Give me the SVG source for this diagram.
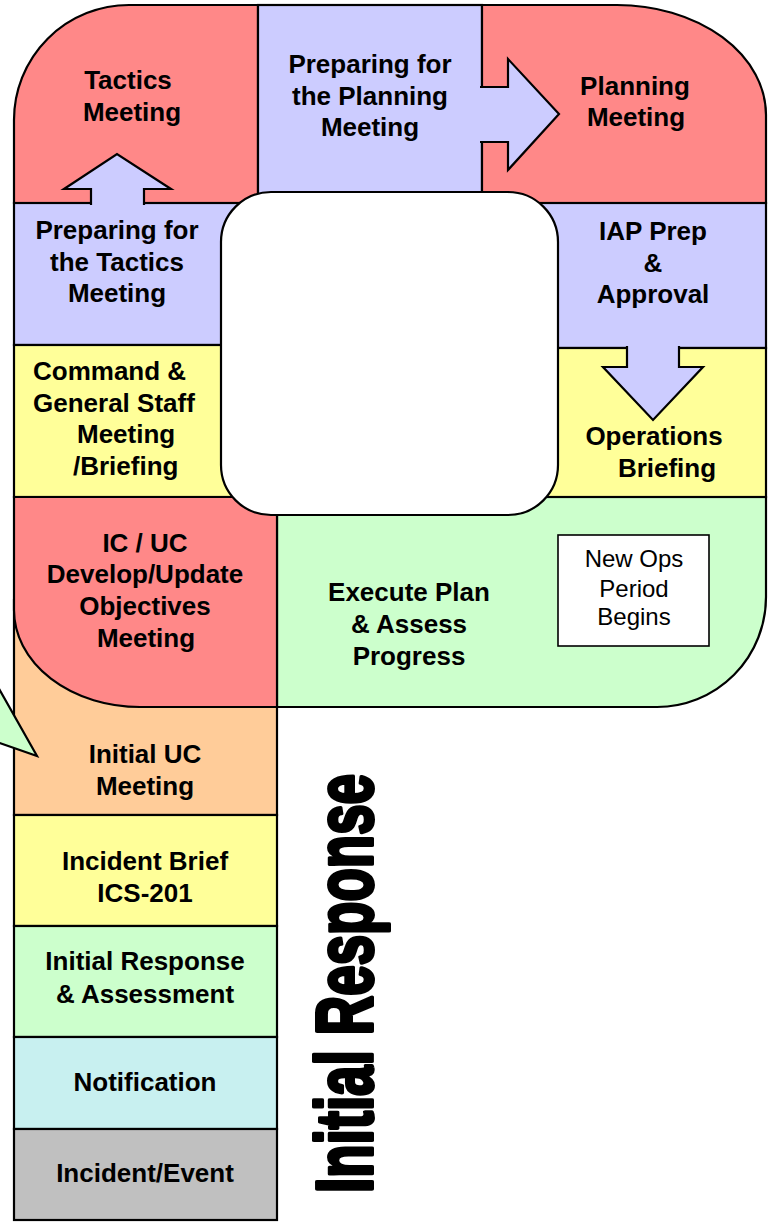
<svg xmlns="http://www.w3.org/2000/svg" width="769" height="1225" viewBox="0 0 769 1225">
<style>
.t{stroke:#000;stroke-width:2.2;stroke-linejoin:miter}
.red{fill:#FF8888}.lav{fill:#CCCCFF}.yel{fill:#FFFF99}.grn{fill:#CCFFCC}.pch{fill:#FFCC99}.cyn{fill:#C8F0F0}.gry{fill:#C0C0C0}
text{font-family:"Liberation Sans",Arial,sans-serif;font-size:26px;font-weight:bold;fill:#000;text-anchor:middle}
.n{font-weight:normal;font-size:24px}
</style>
<rect width="769" height="1225" fill="#fff"/>

<g id="initial-uc"><rect class="t pch" x="14" y="600" width="263" height="215"/></g>
<g id="incident-brief"><rect class="t yel" x="14" y="815" width="263" height="111"/></g>
<g id="initial-response"><rect class="t grn" x="14" y="926" width="263" height="111"/></g>
<g id="notification"><rect class="t cyn" x="14" y="1037" width="263" height="92"/></g>
<g id="incident-event"><rect class="t gry" x="14" y="1129" width="263" height="91"/></g>
<g id="callout"><path class="grn" d="M-6,680 L37,756 L-6,741 Z"/>
<path d="M-6,680 L37,756 L-6,741" fill="none" stroke="#000" stroke-width="2.2"/></g>

<g id="tactics-meeting"><path class="t red" d="M14,120 A115,115 0 0 1 129,5 H258 V203 H14 Z"/></g>
<g id="prep-planning"><rect class="t lav" x="258" y="5" width="224" height="198"/></g>
<g id="planning-meeting"><path class="t red" d="M482,5 H617 A149,110 0 0 1 766,115 V203 H482 Z"/></g>
<g id="prep-tactics"><rect class="t lav" x="14" y="203" width="244" height="142"/></g>
<g id="iap-prep"><rect class="t lav" x="520" y="203" width="246" height="145"/></g>
<g id="command-briefing"><rect class="t yel" x="14" y="345" width="263" height="152"/></g>
<g id="execute-plan"><path class="t grn" d="M277,497 H766 V597 A109,110 0 0 1 657,707 H277 Z"/></g>
<g id="ops-briefing"><rect class="t yel" x="520" y="348" width="246" height="149"/></g>
<g id="objectives-meeting"><path class="t red" d="M14,497 H277 V707 H140 A126,97 0 0 1 14,610 Z"/></g>

<g id="connectors">
<path class="t lav" d="M91,205 V189 H64 L117,154 L171,189 H144 V205"/>
<path class="t lav" d="M480,87 H508 V59 L559,114 L508,170 V142 H480"/>
<path class="t lav" d="M627,346 V367 H603 L653,420 L703,367 H679 V346"/>
</g>

<g id="center"><rect class="t" x="221" y="192" width="337" height="323" rx="50" ry="50" fill="#fff"/></g>
<g id="new-ops"><rect x="558" y="535" width="151" height="111" fill="#fff" stroke="#000" stroke-width="1.6"/>
<text class="n" x="634" y="567">New Ops</text><text class="n" x="634" y="597">Period</text><text class="n" x="634" y="625">Begins</text></g>

<g id="labels">
<text x="128" y="89">Tactics</text><text x="132" y="121">Meeting</text>
<text x="370" y="73">Preparing for</text><text x="370" y="105">the Planning</text><text x="370" y="136">Meeting</text>
<text x="635" y="95">Planning</text><text x="636" y="126">Meeting</text>
<text x="117" y="239">Preparing for</text><text x="117" y="271">the Tactics</text><text x="117" y="302">Meeting</text>
<text x="653" y="240">IAP Prep</text><text x="653" y="272">&amp;</text><text x="653" y="303">Approval</text>
<text x="33" y="380" style="text-anchor:start">Command &amp;</text>
<text x="33" y="412" style="text-anchor:start">General Staff</text>
<text x="77" y="443" style="text-anchor:start">Meeting</text>
<text x="73" y="475" style="text-anchor:start">/Briefing</text>
<text x="654" y="445">Operations</text><text x="667" y="477">Briefing</text>
<text x="145" y="552">IC / UC</text><text x="145" y="583">Develop/Update</text><text x="145" y="615">Objectives</text><text x="146" y="647">Meeting</text>
<text x="409" y="601">Execute Plan</text><text x="409" y="633">&amp; Assess</text><text x="409" y="665">Progress</text>
<text x="145" y="763">Initial UC</text><text x="145" y="795">Meeting</text>
<text x="145" y="870">Incident Brief</text><text x="145" y="902">ICS-201</text>
<text x="145" y="970">Initial Response</text><text x="145" y="1003">&amp; Assessment</text>
<text x="145" y="1091">Notification</text>
<text x="145" y="1182">Incident/Event</text>
<text transform="translate(372,1193) rotate(-90)" style="text-anchor:start;font-size:79px;stroke:#000;stroke-width:4;stroke-linejoin:round" textLength="419" lengthAdjust="spacingAndGlyphs">Initial Response</text>
</g>
</svg>
